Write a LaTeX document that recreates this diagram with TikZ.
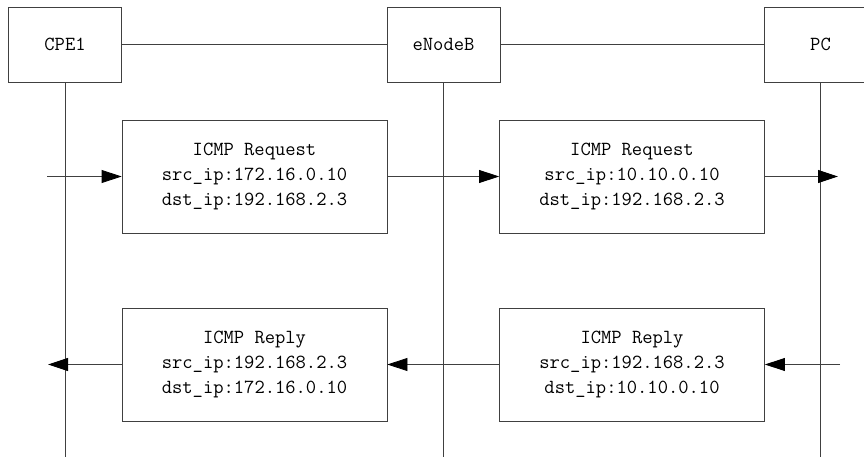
\documentclass[tikz,border=0pt]{standalone}
\usepackage{tikz}
\usetikzlibrary{arrows.meta, positioning}

\begin{document}
\begin{tikzpicture}[x=1pt, y=-1pt,
    dev/.style={draw=black!75, line width=0.8pt, minimum width=113pt,
                minimum height=75pt, inner sep=0pt},
    msg/.style={draw=black!75, line width=0.8pt, minimum width=265pt,
                minimum height=113pt, align=center, inner sep=0pt},
    wire/.style={black!75, line width=0.8pt},
    arr/.style={-{Triangle[length=20pt, width=13pt, color=black]}, black!75, line width=0.8pt},
    font={\ttfamily\fontsize{20}{25}\selectfont}
]
\useasboundingbox (0,0) rectangle (864,457);
\fill[white] (0,0) rectangle (864,457);

% devices
\node[dev] (cpe) at (65,44.5) {CPE1};
\node[dev] (enb) at (443.5,44.5) {eNodeB};
\node[dev] (pc) at (820.5,44.5) {PC};
\draw[wire] (cpe) -- (enb);
\draw[wire] (enb) -- (pc);

% lifelines
\coordinate (cpe-end) at (65,457);
\coordinate (enb-end) at (443.5,457);
\coordinate (pc-end) at (820.5,457);
\draw[wire] (cpe) -- (cpe-end);
\draw[wire] (enb) -- (enb-end);
\draw[wire] (pc) -- (pc-end);

% request
\node[msg] (req1) at (254.5,176.5) {ICMP Request\\src\_ip:172.16.0.10\\dst\_ip:192.168.2.3};
\node[msg] (req2) at (632,176.5) {ICMP Request\\src\_ip:10.10.0.10\\dst\_ip:192.168.2.3};
\coordinate (req-in) at (47,176.5);
\coordinate (req-out) at (838,176.5);
\draw[arr] (req-in) -- (req1);
\draw[arr] (req1) -- (req2);
\draw[arr] (req2) -- (req-out);

% reply
\node[msg] (rep1) at (254.5,364.5) {ICMP Reply\\src\_ip:192.168.2.3\\dst\_ip:172.16.0.10};
\node[msg] (rep2) at (632,364.5) {ICMP Reply\\src\_ip:192.168.2.3\\dst\_ip:10.10.0.10};
\coordinate (rep-in) at (840,364.5);
\coordinate (rep-out) at (48,364.5);
\draw[arr] (rep-in) -- (rep2);
\draw[arr] (rep2) -- (rep1);
\draw[arr] (rep1) -- (rep-out);
\end{tikzpicture}
\end{document}
